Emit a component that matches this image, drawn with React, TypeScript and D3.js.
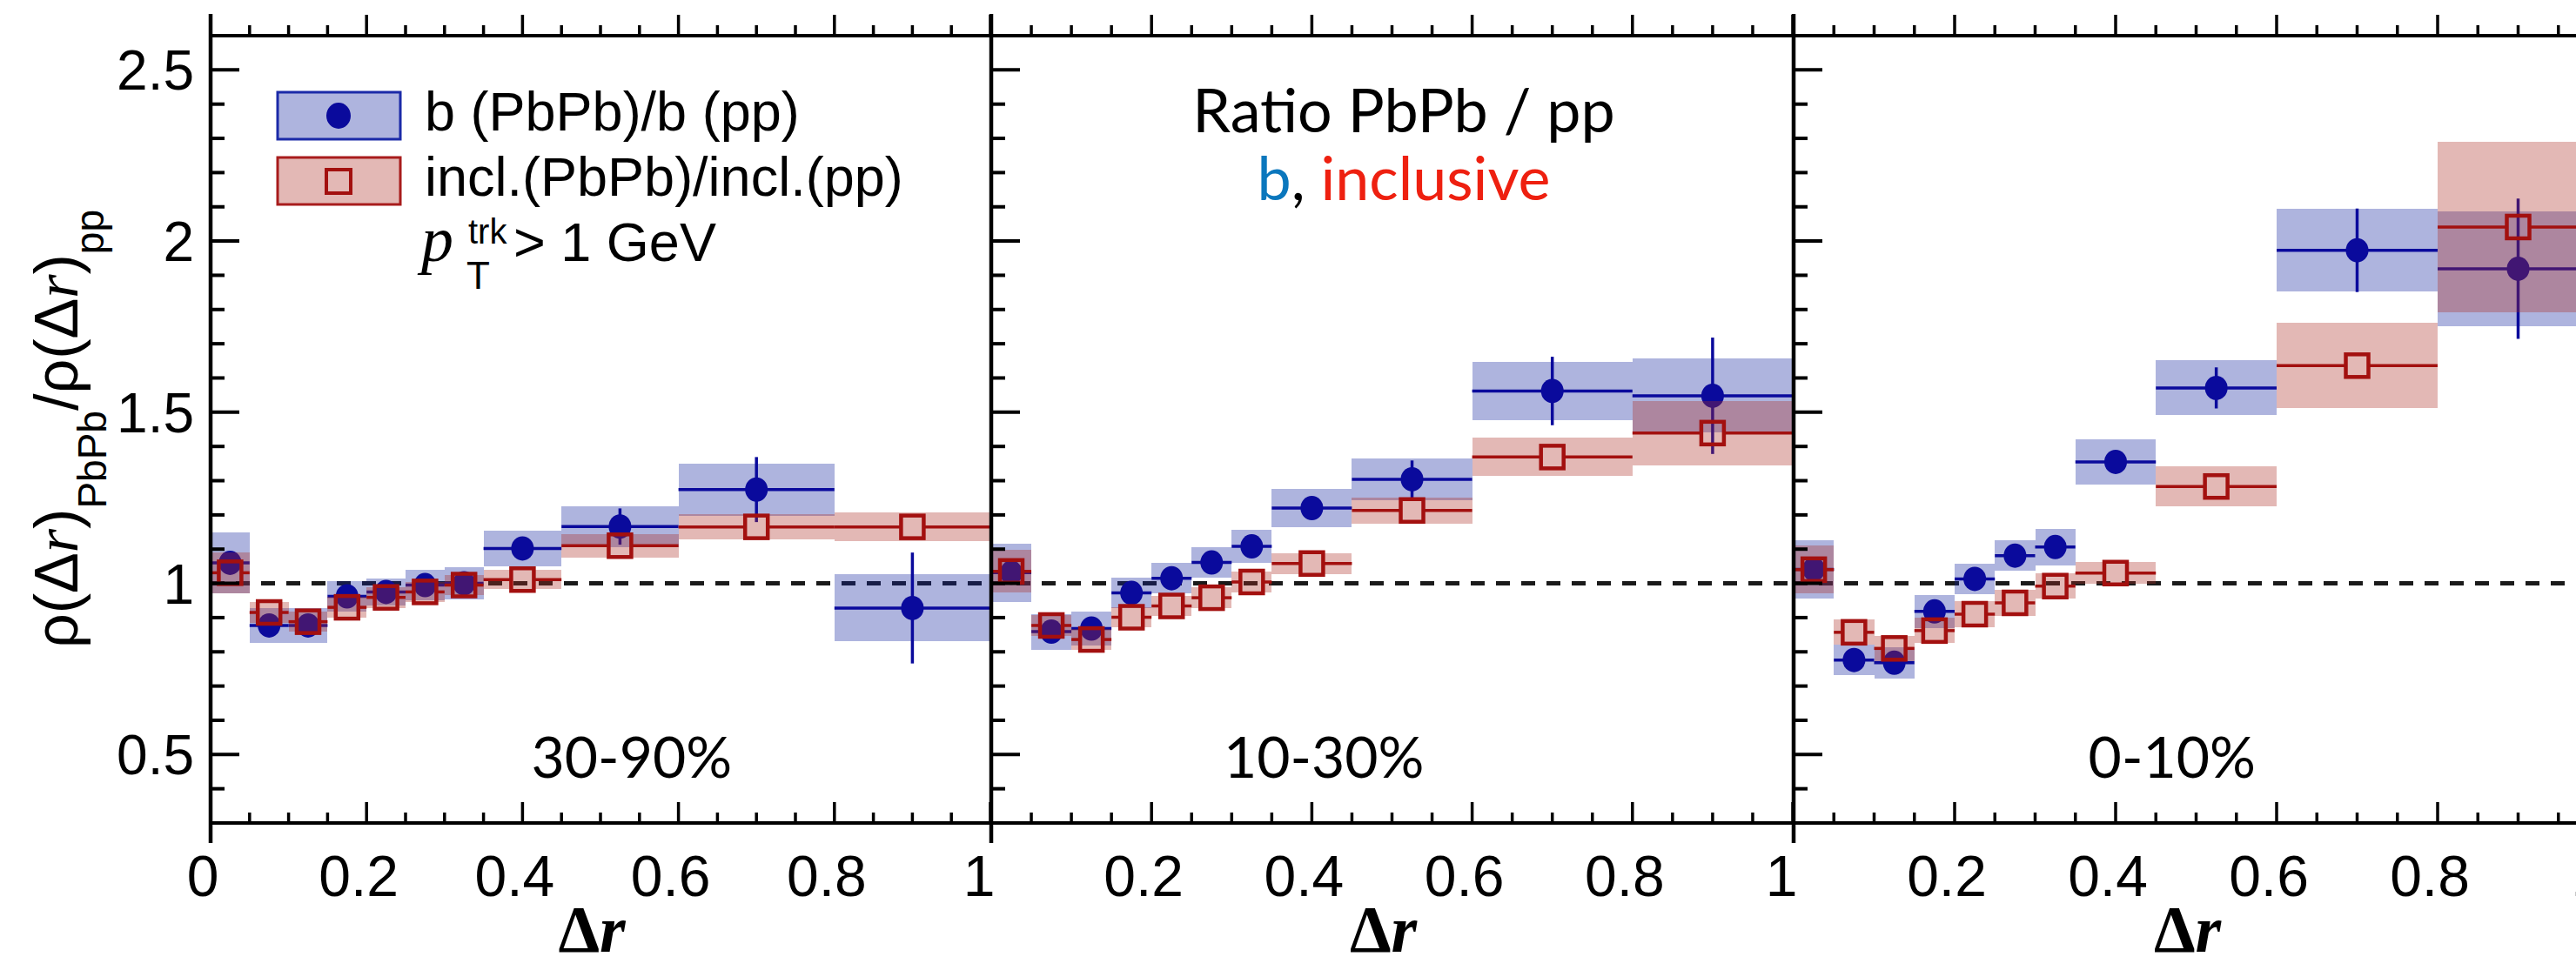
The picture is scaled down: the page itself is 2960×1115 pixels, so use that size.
import React from "react";
import * as d3 from "d3";

// ---------------- data ----------------
const binEdges = [0, 0.05, 0.1, 0.15, 0.2, 0.25, 0.3, 0.35, 0.45, 0.6, 0.8, 1.0];
const centralityLabels = ["30-90%", "10-30%", "0-10%"];

// 30-90%
const b_3090 = [1.06, 0.877, 0.877, 0.962, 0.975, 0.995, 1.0, 1.102, 1.166, 1.274, 0.928];
const bStat_3090 = [0.015, 0.015, 0.015, 0.015, 0.012, 0.015, 0.02, 0.02, 0.053, 0.095, 0.162];
const bSys_3090 = [0.09, 0.05, 0.05, 0.045, 0.04, 0.045, 0.048, 0.052, 0.06, 0.076, 0.098];
const incl_3090 = [1.031, 0.915, 0.888, 0.93, 0.959, 0.975, 0.995, 1.011, 1.11, 1.165, 1.165];
const inclStat_3090 = [0.01, 0.01, 0.01, 0.01, 0.01, 0.01, 0.01, 0.01, 0.015, 0.02, 0.02];
const inclSys_3090 = [0.059, 0.03, 0.03, 0.03, 0.03, 0.03, 0.03, 0.028, 0.035, 0.036, 0.042];

// 10-30%
const b_1030 = [1.031, 0.859, 0.868, 0.972, 1.015, 1.061, 1.108, 1.22, 1.304, 1.562, 1.548];
const bStat_1030 = [0.015, 0.015, 0.015, 0.015, 0.015, 0.015, 0.015, 0.015, 0.055, 0.1, 0.17];
const bSys_1030 = [0.086, 0.052, 0.05, 0.045, 0.045, 0.045, 0.048, 0.057, 0.062, 0.086, 0.108];
const incl_1030 = [1.035, 0.877, 0.836, 0.901, 0.934, 0.958, 1.004, 1.058, 1.213, 1.369, 1.439];
const inclStat_1030 = [0.01, 0.01, 0.01, 0.01, 0.01, 0.01, 0.01, 0.01, 0.015, 0.02, 0.02];
const inclSys_1030 = [0.062, 0.03, 0.03, 0.03, 0.03, 0.03, 0.03, 0.03, 0.038, 0.056, 0.094];

// 0-10%
const b_010 = [1.041, 0.776, 0.768, 0.918, 1.013, 1.081, 1.106, 1.355, 1.571, 1.973, 1.919];
const bStat_010 = [0.015, 0.015, 0.015, 0.015, 0.015, 0.015, 0.015, 0.02, 0.06, 0.122, 0.205];
const bSys_010 = [0.086, 0.045, 0.045, 0.048, 0.045, 0.045, 0.053, 0.066, 0.08, 0.12, 0.167];
const incl_010 = [1.04, 0.857, 0.81, 0.862, 0.91, 0.943, 0.992, 1.03, 1.283, 1.636, 2.041];
const inclStat_010 = [0.01, 0.01, 0.01, 0.01, 0.01, 0.01, 0.01, 0.01, 0.015, 0.02, 0.02];
const inclSys_010 = [0.07, 0.037, 0.037, 0.037, 0.037, 0.037, 0.037, 0.032, 0.058, 0.125, 0.25];

const xTickValues = [0, 0.2, 0.4, 0.6, 0.8, 1.0];
const xTickLabels = ["0", "0.2", "0.4", "0.6", "0.8", "1"];
const yTickValues = [0.5, 1, 1.5, 2, 2.5];
const yTickLabels = ["0.5", "1", "1.5", "2", "2.5"];
const legendLabels = ["b (PbPb)/b (pp)", "incl.(PbPb)/incl.(pp)"];

// ---------------- styles ----------------
const BLUE_LINE = "#0a0a9c";
const BLUE_FILL = "rgb(17,34,158)";
const RED_LINE = "#a3100f";
const RED_FILL = "rgb(173,46,37)";
const FILL_OP = 0.34;
const SANS = "'Liberation Sans', Arial, Helvetica, sans-serif";
const SERIF = "'Liberation Serif', 'Times New Roman', serif";
const HUMAN = "Lato, 'Open Sans', sans-serif";

const W = 2960;
const H = 1115;
const TOP = 41;
const BOTTOM = 946;

const panelsLayout = [
  { x0: 242, x1: 1138, labelX: 0.54, showZero: true },
  { x0: 1139, x1: 2060, labelX: 0.415, showZero: false },
  { x0: 2061, x1: 2986, labelX: 0.47, showZero: false },
];

const panelSeries = [
  { b: b_3090, bStat: bStat_3090, bSys: bSys_3090, i: incl_3090, iStat: inclStat_3090, iSys: inclSys_3090 },
  { b: b_1030, bStat: bStat_1030, bSys: bSys_1030, i: incl_1030, iStat: inclStat_1030, iSys: inclSys_1030 },
  { b: b_010, bStat: bStat_010, bSys: bSys_010, i: incl_010, iStat: inclStat_010, iSys: inclSys_010 },
];

const yScale = d3.scaleLinear().domain([0.3, 2.6]).range([BOTTOM, TOP]);

function SysBoxes({ x, vals, sys, fill }: any) {
  return (
    <g>
      {vals.map((v: number, k: number) => {
        const xa = x(binEdges[k]);
        const xb = x(binEdges[k + 1]);
        const ya = yScale(v + sys[k]);
        const yb = yScale(v - sys[k]);
        return (
          <rect key={k} x={xa} y={ya} width={xb - xa} height={yb - ya} fill={fill} fillOpacity={FILL_OP} shapeRendering="crispEdges" />
        );
      })}
    </g>
  );
}

function StatPoints({ x, vals, stat, color, marker }: any) {
  const half = 13;
  return (
    <g>
      {vals.map((v: number, k: number) => {
        const xa = x(binEdges[k]);
        const xb = x(binEdges[k + 1]);
        const xc = x((binEdges[k] + binEdges[k + 1]) / 2);
        const yc = yScale(v);
        const yt = yScale(v + stat[k]);
        const ybt = yScale(v - stat[k]);
        if (marker === "circle") {
          return (
            <g key={k}>
              <line x1={xa} x2={xb} y1={yc} y2={yc} stroke={color} strokeWidth={3.5} />
              <line x1={xc} x2={xc} y1={yt} y2={ybt} stroke={color} strokeWidth={3.5} />
              <ellipse cx={xc} cy={yc} rx={13} ry={14} fill={color} />
            </g>
          );
        }
        return (
          <g key={k}>
            <line x1={xa} x2={xc - half} y1={yc} y2={yc} stroke={color} strokeWidth={3.5} />
            <line x1={xc + half} x2={xb} y1={yc} y2={yc} stroke={color} strokeWidth={3.5} />
            {yc - yt > half && <line x1={xc} x2={xc} y1={yt} y2={yc - half} stroke={color} strokeWidth={3.5} />}
            {ybt - yc > half && <line x1={xc} x2={xc} y1={yc + half} y2={ybt} stroke={color} strokeWidth={3.5} />}
            <rect x={xc - half} y={yc - half} width={2 * half} height={2 * half} fill="none" stroke={color} strokeWidth={4.5} />
          </g>
        );
      })}
    </g>
  );
}

function Panel({ layout, series, label }: any) {
  const x = d3.scaleLinear().domain([0, 1]).range([layout.x0, layout.x1]);
  const minorX = d3.range(0, 21).map((k) => k * 0.05);
  const minorY = d3.range(3, 27).map((k) => k / 10);
  return (
    <g>
      {/* dashed unity line */}
      <line x1={x(0)} x2={x(1)} y1={yScale(1)} y2={yScale(1)} stroke="#1a1a1a" strokeWidth={5} strokeDasharray="16 13" />
      <SysBoxes x={x} vals={series.b} sys={series.bSys} fill={BLUE_FILL} />
      <StatPoints x={x} vals={series.b} stat={series.bStat} color={BLUE_LINE} marker="circle" />
      <SysBoxes x={x} vals={series.i} sys={series.iSys} fill={RED_FILL} />
      <StatPoints x={x} vals={series.i} stat={series.iStat} color={RED_LINE} marker="square" />

      {/* x ticks: top (outward) and bottom (inward) */}
      {minorX.map((v, k) => {
        const major = k % 4 === 0;
        const len = major ? 24 : 12;
        const xx = x(v);
        return (
          <g key={"xt" + k}>
            <line x1={xx} x2={xx} y1={TOP} y2={TOP - len} stroke="#000" strokeWidth={3.5} />
            <line x1={xx} x2={xx} y1={BOTTOM} y2={BOTTOM - len} stroke="#000" strokeWidth={3.5} />
          </g>
        );
      })}
      {/* y ticks on left axis, pointing right */}
      {minorY.map((v, k) => {
        const major = Math.abs(v * 2 - Math.round(v * 2)) < 1e-6;
        const len = major ? 33 : 16;
        const yy = yScale(v);
        return <line key={"yt" + k} x1={layout.x0} x2={layout.x0 + len} y1={yy} y2={yy} stroke="#000" strokeWidth={4} />;
      })}
      {/* left axis line */}
      <line x1={layout.x0} x2={layout.x0} y1={16} y2={969} stroke="#000" strokeWidth={4.5} />

      {/* x tick labels */}
      {xTickValues.map((v, k) => {
        if (k === 0 && !layout.showZero) return null;
        const off = xTickLabels[k] === "1" ? -13 : -9;
        return (
          <text key={"xl" + k} x={x(v) + off} y={1030} textAnchor="middle" fontFamily={SANS} fontSize={66} fill="#000">
            {xTickLabels[k]}
          </text>
        );
      })}

      {/* x axis title */}
      <text x={x(0.5) - 10} y={1094} textAnchor="middle" fontFamily={SERIF} fontSize={76} fontWeight="bold" fill="#000">
        Δ<tspan fontStyle="italic">r</tspan>
      </text>

      {/* centrality label */}
      <text x={x(layout.labelX)} y={894} textAnchor="middle" fontFamily={HUMAN} fontSize={66} fill="#000">
        {label}
      </text>
    </g>
  );
}

export default function App() {
  return (
    <svg width={W} height={H} viewBox={`0 0 ${W} ${H}`} style={{ position: "absolute", left: 0, top: 0, background: "#fff" }}>
      <rect x={0} y={0} width={W} height={H} fill="#fff" />
      {panelsLayout.map((layout, k) => (
        <Panel key={k} layout={layout} series={panelSeries[k]} label={centralityLabels[k]} />
      ))}

      {/* frame lines */}
      <line x1={242} x2={W} y1={TOP} y2={TOP} stroke="#000" strokeWidth={4} />
      <line x1={242} x2={W} y1={BOTTOM} y2={BOTTOM} stroke="#000" strokeWidth={4} />

      {/* y tick labels */}
      {yTickValues.map((v, k) => (
        <text key={"yl" + k} x={223} y={yScale(v) + 23} textAnchor="end" fontFamily={SANS} fontSize={64} fill="#000">
          {yTickLabels[k]}
        </text>
      ))}

      {/* y axis title */}
      <text transform="translate(89,493) rotate(-90)" textAnchor="middle" fontFamily={SANS} fontSize={70} fill="#000">
        ρ(Δ<tspan fontFamily={SERIF} fontStyle="italic">r</tspan>)
        <tspan fontSize={46} dy={33}>PbPb</tspan>
        <tspan dy={-33}>/ρ(Δ</tspan>
        <tspan fontFamily={SERIF} fontStyle="italic">r</tspan>
        <tspan>)</tspan>
        <tspan fontSize={46} dy={30}>pp</tspan>
      </text>

      {/* legend */}
      <rect x={319} y={106} width={141} height={54} fill={BLUE_FILL} fillOpacity={FILL_OP} stroke="#1b2aa8" strokeWidth={3} />
      <ellipse cx={389} cy={133} rx={14} ry={15} fill={BLUE_LINE} />
      <rect x={319} y={181} width={141} height={54} fill={RED_FILL} fillOpacity={FILL_OP} stroke="#a81c1c" strokeWidth={3} />
      <rect x={375} y={195} width={28} height={27} fill="none" stroke={RED_LINE} strokeWidth={4} />
      <text x={488} y={150} fontFamily={SANS} fontSize={63} fill="#000">{legendLabels[0]}</text>
      <text x={488} y={225} fontFamily={SANS} fontSize={63} fill="#000">{legendLabels[1]}</text>
      <text x={484} y={300} fontFamily={SERIF} fontStyle="italic" fontSize={74} fill="#000">p</text>
      <text x={538} y={280} fontFamily={SANS} fontSize={40} fill="#000">trk</text>
      <text x={536} y={332} fontFamily={SANS} fontSize={44} fill="#000">T</text>
      <text x={590} y={300} fontFamily={SANS} fontSize={63} fill="#000">&gt; 1 GeV</text>

      {/* annotation */}
      <text x={1613} y={152} textAnchor="middle" fontFamily={HUMAN} fontSize={70} fill="#000">
        Ratio PbPb / pp
      </text>
      <text x={1613} y={230} textAnchor="middle" fontFamily={HUMAN} fontSize={70}>
        <tspan fill="#0b77bd">b</tspan>
        <tspan fill="#000">, </tspan>
        <tspan fill="#ee2010">inclusive</tspan>
      </text>
    </svg>
  );
}
